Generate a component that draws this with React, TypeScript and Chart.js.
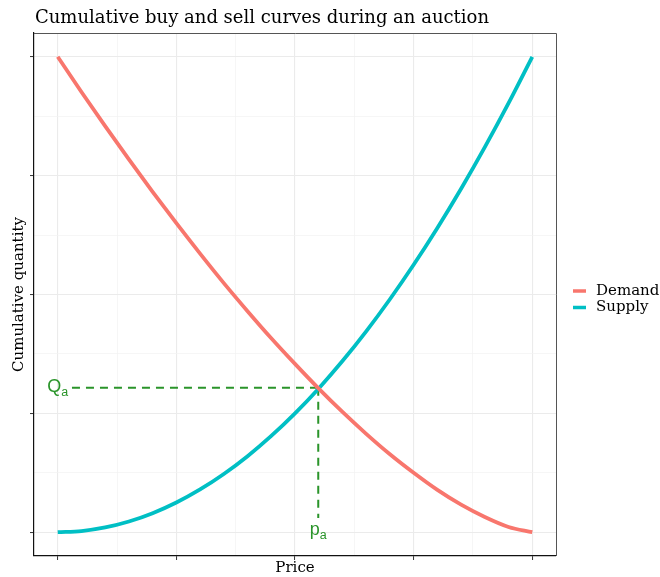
import React, { useEffect, useRef } from "react";
import { Chart, registerables } from "chart.js";

Chart.register(...registerables);

// ---- data (price and quantity on a 0..1 scale) ----
const priceGrid = [
  0, 0.05, 0.1, 0.15, 0.2, 0.25, 0.3, 0.35, 0.4, 0.45, 0.5,
  0.55, 0.6, 0.65, 0.7, 0.75, 0.8, 0.85, 0.9, 0.95, 1,
];
const demandQty = [
  1.0, 0.926, 0.854, 0.784, 0.716, 0.65, 0.586, 0.524, 0.465, 0.408, 0.354,
  0.302, 0.253, 0.207, 0.164, 0.125, 0.089, 0.058, 0.032, 0.011, 0.0,
];
const supplyQty = [
  0.0, 0.0025, 0.01, 0.0225, 0.04, 0.0625, 0.09, 0.1225, 0.16, 0.2025, 0.25,
  0.3025, 0.36, 0.4225, 0.49, 0.5625, 0.64, 0.7225, 0.81, 0.9025, 1.0,
];
const seriesNames = ["Demand", "Supply"];
const seriesColors = ["#F8766D", "#00BFC4"];

const auctionPrice = 0.549;
const auctionQty = 0.304;
const dashStartPrice = 0.03;
const dashStartQty = 0.03;
const qLabel = ["Q", "a"];
const pLabel = ["p", "a"];
const guideColor = "#2A942A";

const majorTicks = [0, 0.25, 0.5, 0.75, 1];
const gridTicks = [0, 0.125, 0.25, 0.375, 0.5, 0.625, 0.75, 0.875, 1];

const titleText = "Cumulative buy and sell curves during an auction";
const xTitle = "Price";
const yTitle = "Cumulative quantity";

const SERIF = "'DejaVu Serif', serif";

const isMajor = (v: number) => majorTicks.some((m) => Math.abs(m - v) < 1e-9);

function makeScale(axis: "x" | "y") {
  return {
    type: "linear" as const,
    min: -0.05,
    max: 1.05,
    afterBuildTicks: (s: any) => {
      s.ticks = gridTicks.map((v) => ({ value: v }));
    },
    afterFit: (s: any) => {
      if (axis === "y") s.width = 34;
      else s.height = 21;
    },
    ticks: { display: false },
    grid: {
      color: (ctx: any) => (ctx.tick && isMajor(ctx.tick.value) ? "#EBEBEB" : "#F2F2F2"),
      lineWidth: (ctx: any) => (ctx.tick && isMajor(ctx.tick.value) ? 1.1 : 0.7),
      tickColor: (ctx: any) =>
        ctx.tick && isMajor(ctx.tick.value) ? "#333333" : "rgba(0,0,0,0)",
      tickWidth: 1,
      tickLength: 4,
      drawTicks: true,
    },
    border: { display: true, color: "#111111", width: 1.2 },
  };
}

function drawSubLabel(
  ctx: CanvasRenderingContext2D,
  main: string,
  sub: string,
  cx: number,
  cy: number
) {
  const mainFont = "18px 'Liberation Sans', Arial, sans-serif";
  const subFont = "12.5px 'Liberation Sans', Arial, sans-serif";
  const shift = 3.5;
  ctx.save();
  ctx.textAlign = "left";
  ctx.textBaseline = "alphabetic";
  ctx.font = mainFont;
  const m = ctx.measureText(main);
  ctx.font = subFont;
  const s = ctx.measureText(sub);
  const w = m.width + s.width;
  const top = Math.min(-m.actualBoundingBoxAscent, shift - s.actualBoundingBoxAscent);
  const bottom = Math.max(m.actualBoundingBoxDescent, shift + s.actualBoundingBoxDescent);
  const base = cy - (top + bottom) / 2;
  const x0 = cx - w / 2;
  ctx.fillStyle = guideColor;
  ctx.font = mainFont;
  ctx.fillText(main, x0, base);
  ctx.font = subFont;
  ctx.fillText(sub, x0 + m.width, base + shift);
  ctx.restore();
}

const decorPlugin = {
  id: "decor",
  afterDraw(chart: any) {
    const { ctx, chartArea, scales } = chart;
    const xs = scales.x;
    const ys = scales.y;
    ctx.save();
    // panel border (top / right)
    ctx.strokeStyle = "#555555";
    ctx.lineWidth = 1;
    ctx.beginPath();
    ctx.moveTo(chartArea.left, chartArea.top + 0.5);
    ctx.lineTo(chartArea.right + 0.5, chartArea.top + 0.5);
    ctx.lineTo(chartArea.right + 0.5, chartArea.bottom);
    ctx.stroke();

    // title
    ctx.fillStyle = "#000000";
    ctx.font = `18px ${SERIF}`;
    ctx.textAlign = "left";
    ctx.textBaseline = "alphabetic";
    ctx.fillText(titleText, 35, 23);

    // axis titles
    ctx.font = `15px ${SERIF}`;
    ctx.textAlign = "center";
    ctx.fillText(xTitle, (chartArea.left + chartArea.right) / 2, 572);
    ctx.save();
    ctx.translate(19, (chartArea.top + chartArea.bottom) / 2);
    ctx.rotate(-Math.PI / 2);
    ctx.textBaseline = "middle";
    ctx.fillText(yTitle, 0, 0);
    ctx.restore();

    // legend
    seriesNames.forEach((name, i) => {
      const y = 291 + i * 16.5;
      ctx.strokeStyle = seriesColors[i];
      ctx.lineWidth = 3.5;
      ctx.lineCap = "butt";
      ctx.beginPath();
      ctx.moveTo(573, y);
      ctx.lineTo(586, y);
      ctx.stroke();
      ctx.fillStyle = "#000000";
      ctx.font = `15px ${SERIF}`;
      ctx.textAlign = "left";
      ctx.textBaseline = "middle";
      ctx.fillText(name, 596, y);
    });

    // guide labels
    drawSubLabel(ctx, qLabel[0], qLabel[1], xs.getPixelForValue(0), ys.getPixelForValue(auctionQty));
    drawSubLabel(ctx, pLabel[0], pLabel[1], xs.getPixelForValue(auctionPrice), ys.getPixelForValue(0));
    ctx.restore();
  },
};

export default function App() {
  const canvasRef = useRef<HTMLCanvasElement | null>(null);

  useEffect(() => {
    const canvas = canvasRef.current;
    if (!canvas) return;
    const curve = (vals: number[]) => priceGrid.map((x, i) => ({ x, y: vals[i] }));
    const chart = new Chart(canvas, {
      type: "line",
      data: {
        datasets: [
          {
            label: seriesNames[0],
            data: curve(demandQty),
            borderColor: seriesColors[0],
            borderWidth: 3.8,
            pointRadius: 0,
            tension: 0.4,
            cubicInterpolationMode: "monotone",
            fill: false,
          },
          {
            label: seriesNames[1],
            data: curve(supplyQty),
            borderColor: seriesColors[1],
            borderWidth: 3.8,
            pointRadius: 0,
            tension: 0.4,
            cubicInterpolationMode: "monotone",
            fill: false,
          },
          {
            label: "qa-guide",
            data: [
              { x: dashStartPrice, y: auctionQty },
              { x: auctionPrice, y: auctionQty },
            ],
            borderColor: guideColor,
            borderWidth: 2,
            borderDash: [8, 6],
            pointRadius: 0,
            fill: false,
          },
          {
            label: "pa-guide",
            data: [
              { x: auctionPrice, y: auctionQty },
              { x: auctionPrice, y: dashStartQty },
            ],
            borderColor: guideColor,
            borderWidth: 2,
            borderDash: [8, 6],
            pointRadius: 0,
            fill: false,
          },
        ],
      },
      options: {
        animation: false,
        responsive: false,
        devicePixelRatio: 1,
        parsing: true,
        layout: { padding: { left: 0, top: 33, right: 104, bottom: 0 } },
        plugins: {
          legend: { display: false },
          title: { display: false },
          tooltip: { enabled: false },
        },
        scales: {
          x: makeScale("x") as any,
          y: makeScale("y") as any,
        },
      },
      plugins: [decorPlugin],
    });
    return () => chart.destroy();
  }, []);

  return (
    <div style={{ position: "absolute", left: 0, top: 0, width: 660, height: 577, background: "#fff" }}>
      <canvas ref={canvasRef} width={660} height={577} style={{ display: "block" }} />
    </div>
  );
}
